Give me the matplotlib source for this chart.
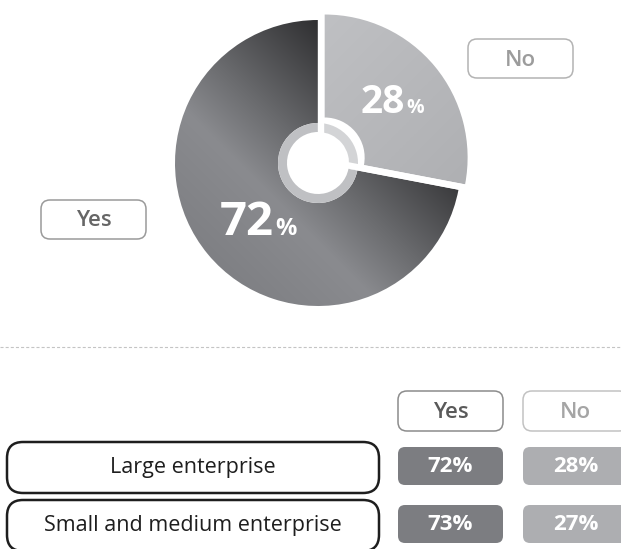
import numpy as np
import matplotlib.pyplot as plt
from matplotlib.patches import FancyBboxPatch

plt.rcParams['font.family'] = ['Open Sans', 'DejaVu Sans']
plt.rcParams['lines.scale_dashes'] = False

# overall answer
pie_labels = ["Yes", "No"]
pie_values = [72, 28]

# breakdown by company size
columns = ["Yes", "No"]
rows = ["Large enterprise", "Small and medium enterprise"]
yes_share = [72, 73]
no_share = [28, 27]

W, H = 621, 549
fig = plt.figure(figsize=(W / 100, H / 100), dpi=100)

# ---- donut ----
cx, cy, R = 318, 163, 143
half = 157
axp = fig.add_axes([(cx - half) / W, (H - cy - half) / H, 2 * half / W, 2 * half / H])

wedges, _ = axp.pie(pie_values, startangle=90, counterclock=True,
                    explode=[0, 0.06], radius=1,
                    wedgeprops=dict(width=1 - 0.28, linewidth=0))

# shading inside each wedge
g = np.linspace(-1.1, 1.1, 400)
gx, gy = np.meshgrid(g, g)
t = (-gx - gy) / np.sqrt(2)
s = (gx - gy) / np.sqrt(2)


def shade(param, stops, hexes):
    rgb = np.array([[int(h[i:i + 2], 16) / 255 for i in (1, 3, 5)] for h in hexes])
    img = np.dstack([np.interp(param, stops, rgb[:, k]) for k in range(3)])
    return img


img_yes = shade(t, [-0.75, 0.0, 0.4, 1.0], ["#2b2b2d", "#6a6b6e", "#8a8b8f", "#7f8084"])
img_no = shade(s, [-0.8, 0.9], ["#c0c1c4", "#aeafb2"])
for w, img in zip(wedges, [img_yes, img_no]):
    w.set_facecolor("none")
    im = axp.imshow(img, extent=[-1.1, 1.1, -1.1, 1.1], origin='lower',
                    interpolation='bilinear', zorder=1)
    im.set_clip_path(w)

# light inner ring
ring, _ = axp.pie(pie_values, startangle=90, counterclock=True, radius=40 / R,
                  colors=["#bfc0c3", "#d3d4d6"],
                  wedgeprops=dict(width=9 / R, linewidth=0))
for r in ring:
    r.set_zorder(2)

# white separators between the two answers
ox, oy = np.array(wedges[1].center) / 2
for ang in (wedges[1].theta1, wedges[1].theta2):
    a = np.deg2rad(ang)
    axp.plot([ox, ox + 1.2 * np.cos(a)], [oy, oy + 1.2 * np.sin(a)],
             color="white", lw=4.6, solid_capstyle='butt', zorder=3)

lim = half / R
axp.set_xlim(-lim, lim)
axp.set_ylim(-lim, lim)
axp.set_aspect('equal')
axp.axis('off')

# ---- overlay in pixel units ----
ax = fig.add_axes([0, 0, 1, 1])
ax.set_xlim(0, W)
ax.set_ylim(H, 0)
ax.patch.set_visible(False)
ax.axis('off')


def box(x, y, w, h, ec, lw, fc="white", rad=12):
    ax.add_patch(FancyBboxPatch((x, y), w, h, boxstyle=f"round,pad=0,rounding_size={rad}",
                                fc=fc, ec=ec, lw=lw))


# percentage labels on the donut
for v, (bx, by), big, small in zip(pie_values, [(274, 235), (405, 113)], [34, 28], [17, 14]):
    ax.text(bx, by, str(v), color="white", fontsize=big, fontweight="bold",
            ha="right", va="baseline")
    ax.text(bx + 1, by, "%", color="white", fontsize=small, fontweight="bold",
            ha="left", va="baseline")

# legend tags next to the donut
tag_style = {"Yes": ("#9a9a9a", "#666666"), "No": ("#b3b3b3", "#9c9c9c")}
for lab, (tx, ty) in zip(pie_labels, [(41, 200), (468, 39)]):
    ec, tc = tag_style[lab]
    box(tx, ty, 105, 39, ec, 1.1, rad=9)
    ax.text(tx + 52.5, ty + 21, lab, color=tc, fontsize=16, fontweight="semibold",
            ha="center", va="center")

# dashed divider
ax.plot([0, W], [347, 347], color="#c4c4c4", lw=0.8, dashes=(2.2, 1.5))

# ---- table ----
col_x = [398, 523]
col_fill = ["#7c7d81", "#adaeb1"]
head_style = [("#8c8c8c", "#5a5a5a"), ("#c2c2c2", "#a5a5a5")]
for x0, lab, (ec, tc) in zip(col_x, columns, head_style):
    box(x0, 391, 105, 40, ec, 1.1, rad=9)
    ax.text(x0 + 52.5, 412, lab, color=tc, fontsize=16, fontweight="semibold",
            ha="center", va="center")

row_y = [447, 505]
for yi, name, yv, nv in zip(row_y, rows, yes_share, no_share):
    box(7, yi - 5, 372, 51, "#1e1e1e", 1.8, rad=16)
    ax.text(193, yi + 20, name, color="#1e1e1e", fontsize=15.5, ha="center", va="center")
    for x0, fc, v in zip(col_x, col_fill, [yv, nv]):
        box(x0, yi, 105, 38, "none", 0, fc=fc, rad=7)
        ax.text(x0 + 52.5, yi + 20, f"{v}%", color="white", fontsize=16,
                fontweight="bold", ha="center", va="center")

fig.savefig("out.png", dpi=100)
